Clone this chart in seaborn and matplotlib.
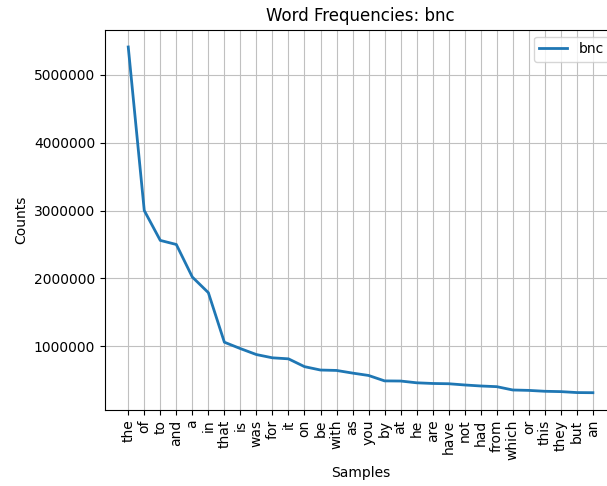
import matplotlib
matplotlib.use("Agg")
import matplotlib.pyplot as plt
import seaborn as sns
import pandas as pd

# top 30 words of the corpus, counts
words = ["the", "of", "to", "and", "a", "in", "that", "is", "was", "for",
         "it", "on", "be", "with", "as", "you", "by", "at", "he", "are",
         "have", "not", "had", "from", "which", "or", "this", "they", "but", "an"]
counts = [5410000, 3000000, 2560000, 2500000, 2020000, 1790000, 1060000, 966000, 878000, 830000,
          815000, 700000, 650000, 644000, 605000, 570000, 490000, 488000, 462000, 452000,
          448000, 430000, 415000, 405000, 356000, 350000, 337000, 332000, 318000, 316000]

df = pd.DataFrame({"Samples": words, "Counts": counts})

fig = plt.figure(figsize=(6.07, 4.86), dpi=100)
ax = fig.add_axes([0.173, 0.1564, 0.842, 0.7825])

sns.lineplot(data=df, x="Samples", y="Counts", sort=False, linewidth=2,
             color="#1f77b4", label="bnc", ax=ax)
ax.grid(True, color="silver")
ax.ticklabel_format(style="plain", axis="y")
ax.tick_params(axis="x", labelrotation=90)
ax.set_title("Word Frequencies: bnc", fontsize=12)
ax.set_xlabel("Samples")
ax.set_ylabel("Counts")
ax.legend(loc="upper right")

fig.savefig("out.png", dpi=100)
